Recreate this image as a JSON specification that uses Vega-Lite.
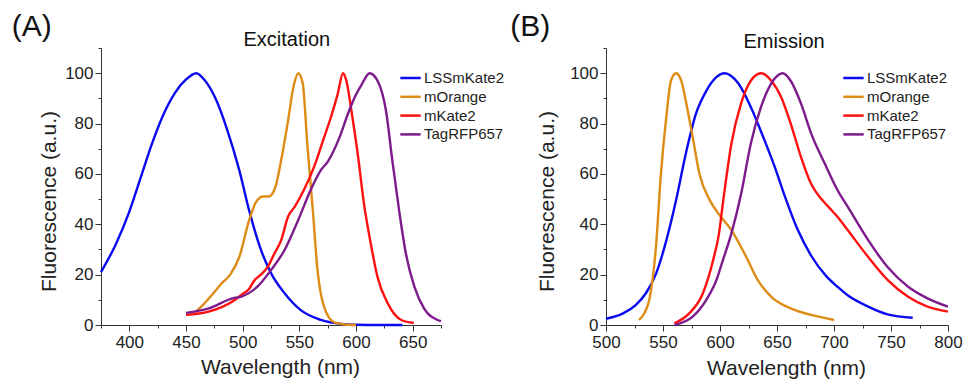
{
  "$schema": "https://vega.github.io/schema/vega-lite/v6.json",
  "padding": {"left": 11, "top": 12, "right": 5, "bottom": 5},
  "spacing": 5,
  "background": "white",
  "config": {
    "view": {"stroke": null},
    "font": "Liberation Sans",
    "axis": {
      "grid": false,
      "domainColor": "#333",
      "tickColor": "#333",
      "labelColor": "#222",
      "titleColor": "#222",
      "labelFont": "Liberation Sans",
      "titleFont": "Liberation Sans",
      "labelFontSize": 17,
      "titleFontSize": 21,
      "titleFontWeight": "normal",
      "labelPadding": 2,
      "labelFlush": false,
      "labelOverlap": false,
      "tickWidth": 1,
      "domainWidth": 1
    },
    "axisX": {"labelPadding": 3.5},
    "legend": {
      "labelFont": "Liberation Sans",
      "labelFontSize": 15,
      "labelColor": "#222",
      "padding": 0,
      "rowPadding": 2.8,
      "symbolType": "M-1.7,0H1.7",
      "symbolSize": 144,
      "symbolStrokeWidth": 2.5,
      "labelOffset": 6
    }
  },
  "resolve": {
    "scale": {"x": "independent", "y": "independent", "color": "independent"},
    "legend": {"color": "independent"}
  },
  "datasets": {
    "exc": [
      {"p": "LSSmKate2", "nm": 375, "v": 21},
      {"p": "LSSmKate2", "nm": 388, "v": 32},
      {"p": "LSSmKate2", "nm": 400, "v": 45},
      {"p": "LSSmKate2", "nm": 410, "v": 58.5},
      {"p": "LSSmKate2", "nm": 420, "v": 72},
      {"p": "LSSmKate2", "nm": 430, "v": 83.5},
      {"p": "LSSmKate2", "nm": 440, "v": 92},
      {"p": "LSSmKate2", "nm": 450, "v": 97.5},
      {"p": "LSSmKate2", "nm": 459, "v": 100},
      {"p": "LSSmKate2", "nm": 466, "v": 97.5},
      {"p": "LSSmKate2", "nm": 476, "v": 90},
      {"p": "LSSmKate2", "nm": 486, "v": 78},
      {"p": "LSSmKate2", "nm": 497, "v": 61.5},
      {"p": "LSSmKate2", "nm": 506, "v": 45},
      {"p": "LSSmKate2", "nm": 516, "v": 30},
      {"p": "LSSmKate2", "nm": 525, "v": 20.6},
      {"p": "LSSmKate2", "nm": 537, "v": 12.6},
      {"p": "LSSmKate2", "nm": 551, "v": 6},
      {"p": "LSSmKate2", "nm": 569, "v": 2},
      {"p": "LSSmKate2", "nm": 587, "v": 0.4},
      {"p": "LSSmKate2", "nm": 600, "v": 0.1},
      {"p": "LSSmKate2", "nm": 620, "v": 0},
      {"p": "LSSmKate2", "nm": 641, "v": 0},
      {"p": "mOrange", "nm": 458, "v": 5},
      {"p": "mOrange", "nm": 465, "v": 8},
      {"p": "mOrange", "nm": 472, "v": 11.5},
      {"p": "mOrange", "nm": 481, "v": 16.3},
      {"p": "mOrange", "nm": 489, "v": 20},
      {"p": "mOrange", "nm": 497, "v": 27},
      {"p": "mOrange", "nm": 506, "v": 42},
      {"p": "mOrange", "nm": 512, "v": 49},
      {"p": "mOrange", "nm": 518, "v": 51},
      {"p": "mOrange", "nm": 523, "v": 51},
      {"p": "mOrange", "nm": 529, "v": 55},
      {"p": "mOrange", "nm": 534, "v": 65.5},
      {"p": "mOrange", "nm": 540, "v": 81},
      {"p": "mOrange", "nm": 545, "v": 95},
      {"p": "mOrange", "nm": 549, "v": 100},
      {"p": "mOrange", "nm": 553, "v": 96},
      {"p": "mOrange", "nm": 557, "v": 72},
      {"p": "mOrange", "nm": 562, "v": 45},
      {"p": "mOrange", "nm": 566, "v": 22},
      {"p": "mOrange", "nm": 572, "v": 7},
      {"p": "mOrange", "nm": 581, "v": 1},
      {"p": "mOrange", "nm": 590, "v": 0.2},
      {"p": "mOrange", "nm": 600, "v": 0},
      {"p": "mKate2", "nm": 450, "v": 4},
      {"p": "mKate2", "nm": 470, "v": 5.3},
      {"p": "mKate2", "nm": 491, "v": 9.3},
      {"p": "mKate2", "nm": 499, "v": 12},
      {"p": "mKate2", "nm": 506, "v": 14.5},
      {"p": "mKate2", "nm": 510, "v": 17.5},
      {"p": "mKate2", "nm": 516, "v": 20},
      {"p": "mKate2", "nm": 522, "v": 23},
      {"p": "mKate2", "nm": 528, "v": 28.4},
      {"p": "mKate2", "nm": 534, "v": 33.7},
      {"p": "mKate2", "nm": 540, "v": 43},
      {"p": "mKate2", "nm": 546, "v": 47},
      {"p": "mKate2", "nm": 554, "v": 53.6},
      {"p": "mKate2", "nm": 563, "v": 62.8},
      {"p": "mKate2", "nm": 572, "v": 74.7},
      {"p": "mKate2", "nm": 578, "v": 82.7},
      {"p": "mKate2", "nm": 584, "v": 92},
      {"p": "mKate2", "nm": 588.5, "v": 100},
      {"p": "mKate2", "nm": 591.5, "v": 97},
      {"p": "mKate2", "nm": 596, "v": 85},
      {"p": "mKate2", "nm": 601.5, "v": 68},
      {"p": "mKate2", "nm": 607, "v": 48.3},
      {"p": "mKate2", "nm": 613, "v": 32.4},
      {"p": "mKate2", "nm": 619, "v": 19},
      {"p": "mKate2", "nm": 628, "v": 8.6},
      {"p": "mKate2", "nm": 640, "v": 2},
      {"p": "mKate2", "nm": 651, "v": 0.8},
      {"p": "TagRFP657", "nm": 450, "v": 4.8},
      {"p": "TagRFP657", "nm": 470, "v": 6.6},
      {"p": "TagRFP657", "nm": 491, "v": 10.6},
      {"p": "TagRFP657", "nm": 499, "v": 11.3},
      {"p": "TagRFP657", "nm": 513, "v": 15.2},
      {"p": "TagRFP657", "nm": 525, "v": 21.8},
      {"p": "TagRFP657", "nm": 537, "v": 29.8},
      {"p": "TagRFP657", "nm": 549, "v": 41.7},
      {"p": "TagRFP657", "nm": 560, "v": 53.6},
      {"p": "TagRFP657", "nm": 569, "v": 61.5},
      {"p": "TagRFP657", "nm": 575, "v": 64.8},
      {"p": "TagRFP657", "nm": 585, "v": 74},
      {"p": "TagRFP657", "nm": 593, "v": 84},
      {"p": "TagRFP657", "nm": 600, "v": 91.5},
      {"p": "TagRFP657", "nm": 605, "v": 95.5},
      {"p": "TagRFP657", "nm": 612, "v": 100},
      {"p": "TagRFP657", "nm": 619, "v": 97},
      {"p": "TagRFP657", "nm": 626.5, "v": 85},
      {"p": "TagRFP657", "nm": 632, "v": 65.5},
      {"p": "TagRFP657", "nm": 638, "v": 45.6},
      {"p": "TagRFP657", "nm": 644, "v": 28.4},
      {"p": "TagRFP657", "nm": 651.5, "v": 15.2},
      {"p": "TagRFP657", "nm": 660, "v": 6.6},
      {"p": "TagRFP657", "nm": 672, "v": 2},
      {"p": "TagRFP657", "nm": 675, "v": 1.5}
    ],
    "em": [
      {"p": "LSSmKate2", "nm": 500, "v": 2.5},
      {"p": "LSSmKate2", "nm": 515, "v": 4.6},
      {"p": "LSSmKate2", "nm": 526, "v": 7.9},
      {"p": "LSSmKate2", "nm": 535, "v": 12.6},
      {"p": "LSSmKate2", "nm": 544, "v": 20.5},
      {"p": "LSSmKate2", "nm": 553, "v": 33.7},
      {"p": "LSSmKate2", "nm": 561.5, "v": 49.6},
      {"p": "LSSmKate2", "nm": 570, "v": 68},
      {"p": "LSSmKate2", "nm": 579, "v": 84},
      {"p": "LSSmKate2", "nm": 588, "v": 93},
      {"p": "LSSmKate2", "nm": 597, "v": 98.5},
      {"p": "LSSmKate2", "nm": 604, "v": 100},
      {"p": "LSSmKate2", "nm": 616, "v": 96},
      {"p": "LSSmKate2", "nm": 627, "v": 86.6},
      {"p": "LSSmKate2", "nm": 639, "v": 73.4},
      {"p": "LSSmKate2", "nm": 648, "v": 62.8},
      {"p": "LSSmKate2", "nm": 657, "v": 51},
      {"p": "LSSmKate2", "nm": 668, "v": 38},
      {"p": "LSSmKate2", "nm": 680, "v": 27.5},
      {"p": "LSSmKate2", "nm": 693, "v": 19.5},
      {"p": "LSSmKate2", "nm": 703, "v": 15.2},
      {"p": "LSSmKate2", "nm": 712, "v": 11.8},
      {"p": "LSSmKate2", "nm": 730, "v": 7.3},
      {"p": "LSSmKate2", "nm": 747, "v": 4.2},
      {"p": "LSSmKate2", "nm": 769, "v": 2.9},
      {"p": "mOrange", "nm": 529, "v": 2},
      {"p": "mOrange", "nm": 534, "v": 5},
      {"p": "mOrange", "nm": 538, "v": 10},
      {"p": "mOrange", "nm": 544, "v": 32},
      {"p": "mOrange", "nm": 548, "v": 59},
      {"p": "mOrange", "nm": 553, "v": 83},
      {"p": "mOrange", "nm": 557, "v": 97},
      {"p": "mOrange", "nm": 561.5, "v": 100},
      {"p": "mOrange", "nm": 566, "v": 97},
      {"p": "mOrange", "nm": 570, "v": 89},
      {"p": "mOrange", "nm": 576, "v": 74.7},
      {"p": "mOrange", "nm": 582, "v": 60},
      {"p": "mOrange", "nm": 591, "v": 49.6},
      {"p": "mOrange", "nm": 599, "v": 44},
      {"p": "mOrange", "nm": 610, "v": 37.7},
      {"p": "mOrange", "nm": 621.5, "v": 28.4},
      {"p": "mOrange", "nm": 633, "v": 17.9},
      {"p": "mOrange", "nm": 645, "v": 11.2},
      {"p": "mOrange", "nm": 662, "v": 6.6},
      {"p": "mOrange", "nm": 680, "v": 4},
      {"p": "mOrange", "nm": 700, "v": 2},
      {"p": "mKate2", "nm": 560, "v": 0.7},
      {"p": "mKate2", "nm": 573, "v": 4.6},
      {"p": "mKate2", "nm": 585, "v": 12.6},
      {"p": "mKate2", "nm": 594, "v": 25.8},
      {"p": "mKate2", "nm": 599, "v": 36},
      {"p": "mKate2", "nm": 603, "v": 50},
      {"p": "mKate2", "nm": 610, "v": 72},
      {"p": "mKate2", "nm": 618.5, "v": 88},
      {"p": "mKate2", "nm": 627, "v": 97},
      {"p": "mKate2", "nm": 636, "v": 100},
      {"p": "mKate2", "nm": 645, "v": 97},
      {"p": "mKate2", "nm": 653.5, "v": 90.6},
      {"p": "mKate2", "nm": 662, "v": 80},
      {"p": "mKate2", "nm": 671, "v": 66.8},
      {"p": "mKate2", "nm": 680, "v": 56},
      {"p": "mKate2", "nm": 689, "v": 50},
      {"p": "mKate2", "nm": 695, "v": 47},
      {"p": "mKate2", "nm": 703, "v": 43},
      {"p": "mKate2", "nm": 712, "v": 37.7},
      {"p": "mKate2", "nm": 730, "v": 27},
      {"p": "mKate2", "nm": 747, "v": 17.9},
      {"p": "mKate2", "nm": 765, "v": 11.2},
      {"p": "mKate2", "nm": 782, "v": 7.3},
      {"p": "mKate2", "nm": 800, "v": 5.3},
      {"p": "TagRFP657", "nm": 560, "v": 0},
      {"p": "TagRFP657", "nm": 576, "v": 3.3},
      {"p": "TagRFP657", "nm": 588, "v": 10},
      {"p": "TagRFP657", "nm": 597, "v": 18},
      {"p": "TagRFP657", "nm": 602, "v": 25},
      {"p": "TagRFP657", "nm": 610, "v": 36.4},
      {"p": "TagRFP657", "nm": 618.5, "v": 52},
      {"p": "TagRFP657", "nm": 627, "v": 72},
      {"p": "TagRFP657", "nm": 636, "v": 86.6},
      {"p": "TagRFP657", "nm": 645, "v": 96},
      {"p": "TagRFP657", "nm": 655, "v": 100},
      {"p": "TagRFP657", "nm": 662, "v": 97},
      {"p": "TagRFP657", "nm": 671, "v": 88},
      {"p": "TagRFP657", "nm": 680, "v": 76},
      {"p": "TagRFP657", "nm": 692, "v": 64},
      {"p": "TagRFP657", "nm": 703, "v": 53.6},
      {"p": "TagRFP657", "nm": 712, "v": 47},
      {"p": "TagRFP657", "nm": 730, "v": 33.7},
      {"p": "TagRFP657", "nm": 747, "v": 23},
      {"p": "TagRFP657", "nm": 765, "v": 15.2},
      {"p": "TagRFP657", "nm": 782, "v": 10.6},
      {"p": "TagRFP657", "nm": 800, "v": 7.3}
    ],
    "labelsA": [{"t": "(A)"}],
    "titleA": [{"t": "Excitation"}],
    "labelsB": [{"t": "(B)"}],
    "titleB": [{"t": "Emission"}]
  },
  "hconcat": [
    {
      "width": 340,
      "height": 277,
      "resolve": {"axis": {"x": "independent", "y": "independent"}},
      "layer": [
        {
          "data": {"name": "exc"},
          "mark": {"type": "line", "strokeWidth": 2.4, "interpolate": "monotone", "clip": false},
          "encoding": {
            "x": {
              "field": "nm", "type": "quantitative",
              "scale": {"domain": [375, 675], "nice": false, "zero": false},
              "axis": {
                "orient": "bottom",
                "title": "Wavelength (nm)",
                "values": [375, 400, 425, 450, 475, 500, 525, 550, 575, 600, 625, 650, 675],
                "labelExpr": "datum.value % 50 === 0 ? datum.label : ''",
                "tickSize": {"condition": {"test": "datum.value % 50 === 0", "value": 6}, "value": 3},
                "titleX": 179, "titleY": 48, "titleBaseline": "alphabetic", "titleAlign": "center"
              }
            },
            "y": {
              "field": "v", "type": "quantitative",
              "scale": {"domain": [0, 110], "nice": false},
              "axis": {
                "orient": "left",
                "title": "Fluorescence (a.u.)",
                "values": [0, 10, 20, 30, 40, 50, 60, 70, 80, 90, 100, 110],
                "labelExpr": "datum.value % 20 === 0 && datum.value <= 100 ? datum.label : ''",
                "tickSize": {"condition": {"test": "datum.value % 20 === 0 && datum.value <= 100", "value": 6}, "value": 3},
                "titleX": -46, "titleY": 153, "titleBaseline": "alphabetic", "titleAlign": "center", "titleAngle": -90
              }
            },
            "color": {
              "field": "p", "type": "nominal",
              "scale": {"domain": ["LSSmKate2", "mOrange", "mKate2", "TagRFP657"], "range": ["#0a0aee", "#dd8c15", "#ff1010", "#7d1a8c"]},
              "legend": {"title": null, "orient": "none", "legendX": 302, "legendY": 22.5}
            }
          }
        },
        {
          "data": {"name": "labelsA"},
          "mark": {"type": "text", "fontSize": 30, "baseline": "alphabetic", "align": "center", "color": "#111"},
          "encoding": {
            "x": {"datum": 314, "type": "quantitative", "axis": null},
            "y": {"datum": 114.7, "type": "quantitative", "axis": null},
            "text": {"field": "t"}
          }
        },
        {
          "data": {"name": "titleA"},
          "mark": {"type": "text", "fontSize": 20, "baseline": "alphabetic", "align": "center", "color": "#111"},
          "encoding": {
            "x": {"datum": 539, "type": "quantitative", "axis": null},
            "y": {"datum": 110.8, "type": "quantitative", "axis": null},
            "text": {"field": "t"}
          }
        }
      ]
    },
    {
      "width": 342,
      "height": 277,
      "resolve": {"axis": {"x": "independent", "y": "independent"}},
      "layer": [
        {
          "data": {"name": "em"},
          "mark": {"type": "line", "strokeWidth": 2.4, "interpolate": "monotone", "clip": false},
          "encoding": {
            "x": {
              "field": "nm", "type": "quantitative",
              "scale": {"domain": [500, 800], "nice": false, "zero": false},
              "axis": {
                "orient": "bottom",
                "title": "Wavelength (nm)",
                "values": [500, 525, 550, 575, 600, 625, 650, 675, 700, 725, 750, 775, 800],
                "labelExpr": "datum.value % 50 === 0 ? datum.label : ''",
                "tickSize": {"condition": {"test": "datum.value % 50 === 0", "value": 6}, "value": 3},
                "titleX": 180, "titleY": 49, "titleBaseline": "alphabetic", "titleAlign": "center"
              }
            },
            "y": {
              "field": "v", "type": "quantitative",
              "scale": {"domain": [0, 110], "nice": false},
              "axis": {
                "orient": "left",
                "title": "Fluorescence (a.u.)",
                "values": [0, 10, 20, 30, 40, 50, 60, 70, 80, 90, 100, 110],
                "labelExpr": "datum.value % 20 === 0 && datum.value <= 100 ? datum.label : ''",
                "tickSize": {"condition": {"test": "datum.value % 20 === 0 && datum.value <= 100", "value": 6}, "value": 3},
                "titleX": -52.5, "titleY": 153, "titleBaseline": "alphabetic", "titleAlign": "center", "titleAngle": -90
              }
            },
            "color": {
              "field": "p", "type": "nominal",
              "scale": {"domain": ["LSSmKate2", "mOrange", "mKate2", "TagRFP657"], "range": ["#0a0aee", "#dd8c15", "#ff1010", "#7d1a8c"]},
              "legend": {"title": null, "orient": "none", "legendX": 240, "legendY": 22.5}
            }
          }
        },
        {
          "data": {"name": "labelsB"},
          "mark": {"type": "text", "fontSize": 30, "baseline": "alphabetic", "align": "center", "color": "#111"},
          "encoding": {
            "x": {"datum": 433.6, "type": "quantitative", "axis": null},
            "y": {"datum": 114.7, "type": "quantitative", "axis": null},
            "text": {"field": "t"}
          }
        },
        {
          "data": {"name": "titleB"},
          "mark": {"type": "text", "fontSize": 20, "baseline": "alphabetic", "align": "center", "color": "#111"},
          "encoding": {
            "x": {"datum": 656.2, "type": "quantitative", "axis": null},
            "y": {"datum": 110, "type": "quantitative", "axis": null},
            "text": {"field": "t"}
          }
        }
      ]
    }
  ]
}
